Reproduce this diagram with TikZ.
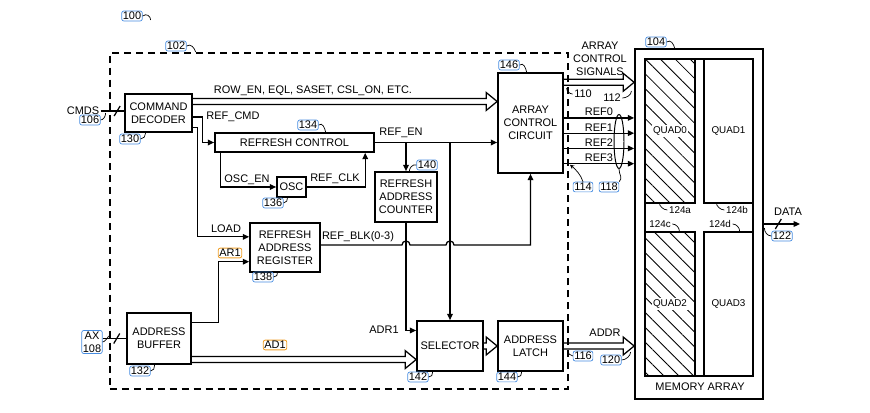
\documentclass[tikz,border=0pt]{standalone}
\usepackage{fontspec}
\setmainfont{Liberation Sans}
\usetikzlibrary{arrows.meta, calc, shapes.geometric, patterns.meta}

\definecolor{refblue}{RGB}{70,140,225}
\definecolor{reforange}{RGB}{240,160,40}

\newcommand{\lbl}{\fontsize{7.8}{9.4}\selectfont}
\newcommand{\qfont}{\fontsize{7}{8}\selectfont}

% hollow bus arrow: #1 start, #2 tip (same height)
\newcommand{\busarrow}[2]{%
  \draw[bus] ($(#1)+(0,-3)$) -- ($(#2)+(-11,-3)$) -- ($(#2)+(-11,-9)$) -- (#2)
    -- ($(#2)+(-11,9)$) -- ($(#2)+(-11,3)$) -- ($(#1)+(0,3)$);}

\begin{document}
\begin{tikzpicture}[
    x=0.025cm, y=-0.025cm,
    box/.style={rectangle, draw=black, line width=1.2pt, fill=white, align=center,
                inner sep=1pt, font=\lbl},
    chipbox/.style={rectangle, draw=black, line width=1pt, dash pattern=on 5pt off 3.5pt,
                    minimum width=11.45cm, minimum height=8.4cm},
    quad/.style={rectangle, draw=black, line width=1pt, minimum width=1.25cm, minimum height=3.6cm},
    hatch/.style={pattern={Lines[angle=-45, distance=7.5pt, line width=0.6pt]}},
    sig/.style={line width=0.9pt, -{Triangle[length=4.5pt,width=4pt]}},
    wire/.style={line width=0.9pt},
    bus/.style={line width=0.9pt, line join=miter},
    txt/.style={font=\lbl, inner sep=1pt, align=center},
    refnum/.style={draw=refblue, rounded corners=1.5pt, line width=0.5pt, inner sep=0.8pt, font=\lbl, align=center},
    signame/.style={draw=reforange, rounded corners=1.5pt, line width=0.6pt, inner sep=0.8pt, font=\lbl},
    hook/.style={line width=0.5pt}
]
\useasboundingbox (0,0) rectangle (870,413);

% ==================== CHIP (DASHED) ====================
\node[chipbox] (chip) at (339,221) {};
\node[refnum] (n100) at (132,16) {100};
\node[refnum] (n102) at (176,46) {102};

% ==================== BLOCKS ====================
\node[box, minimum width=1.675cm, minimum height=0.95cm] (dec) at (158.5,113) {COMMAND\\DECODER};
\node[box, minimum width=1.625cm, minimum height=2.5cm] (acc) at (530.5,123) {ARRAY\\CONTROL\\CIRCUIT};
\node[box, minimum width=3.975cm, minimum height=0.475cm] (rctl) at (294.5,142.5) {REFRESH CONTROL};
\node[box, minimum width=0.725cm, minimum height=0.5cm] (osc) at (291.5,187) {OSC};
\node[box, minimum width=1.55cm, minimum height=1.25cm] (rac) at (406,197) {REFRESH\\ADDRESS\\COUNTER};
\node[box, minimum width=1.75cm, minimum height=1.225cm] (rar) at (285,247.5) {REFRESH\\ADDRESS\\REGISTER};
\node[box, minimum width=1.6cm, minimum height=1.275cm] (abuf) at (159,338.5) {ADDRESS\\BUFFER};
\node[box, minimum width=1.65cm, minimum height=1.25cm] (sel) at (450,346) {SELECTOR};
\node[box, minimum width=1.625cm, minimum height=1.25cm] (latch) at (530.5,346) {ADDRESS\\LATCH};

\node[refnum] (n130) at (130,139) {130};
\node[refnum] (n146) at (509,65) {146};
\node[refnum] (n134) at (308,125) {134};
\node[refnum] (n136) at (273,203) {136};
\node[refnum] (n140) at (427,165) {140};
\node[refnum] (n138) at (263,277) {138};
\node[refnum] (n132) at (140,371) {132};
\node[refnum] (n142) at (418,377) {142};
\node[refnum] (n144) at (507,377) {144};

% ==================== MEMORY ARRAY ====================
\node[rectangle, draw=black, line width=1.2pt, minimum width=3.2cm, minimum height=8.75cm] (mem) at (699,224) {};
\node[rectangle, draw=black, line width=1pt, minimum width=2.7cm, minimum height=7.925cm] (cells) at (699,217.5) {};
\node[quad, hatch] (q0) at (670,131) {};
\node[quad, minimum width=1.225cm] (q1) at (728.5,131) {};
\node[quad, hatch] (q2) at (670,304) {};
\node[quad, minimum width=1.225cm] (q3) at (728.5,304) {};
\node[font=\qfont, fill=white, inner sep=1pt] (lq0) at (q0) {QUAD0};
\node[font=\qfont, inner sep=1pt] (lq1) at (q1) {QUAD1};
\node[font=\qfont, fill=white, inner sep=1pt] (lq2) at (q2) {QUAD2};
\node[font=\qfont, inner sep=1pt] (lq3) at (q3) {QUAD3};
\node[txt] (lmem) at (700,387) {MEMORY ARRAY};
\node[refnum] (n104) at (656,42) {104};
\node[font=\qfont, inner sep=1pt] (n124a) at (680,210) {124a};
\node[font=\qfont, inner sep=1pt] (n124b) at (737,210) {124b};
\node[font=\qfont, inner sep=1pt] (n124c) at (660,224) {124c};
\node[font=\qfont, inner sep=1pt] (n124d) at (720,224) {124d};

% ==================== INPUTS ====================
\node[txt] (cmds) at (83,111) {CMDS};
\node[refnum] (n106) at (90,120) {106};
\node[refnum] (nax) at (92,342) {AX\\108};

\draw[wire] (cmds.east) -- (dec.west |- cmds.east);
\draw[wire] ($(cmds.east)!.7!(dec.west |- cmds.east)$) ++(-3,5) -- ++(6,-10);
\draw[wire] (nax.east |- abuf.west) -- (abuf.west);
\draw[wire] ($(nax.east |- abuf.west)!.6!(abuf.west)$) ++(-3,5) -- ++(6,-10);

% ==================== CONNECTIONS ====================
% command decoder
\coordinate (rowbus) at ($(dec.north east)!.21!(dec.south east)$);
\busarrow{rowbus}{acc.west |- rowbus}
\node[txt] (lrow) at (313,91) {ROW\_EN, EQL, SASET, CSL\_ON, ETC.};

\draw[sig] ($(dec.north east)!.6!(dec.south east)$) -- ++(10,0) |- (rctl.west);
\node[txt] (lrefcmd) at (233,117) {REF\_CMD};
\draw[sig] ($(dec.north east)!.87!(dec.south east)$) -- ++(5,0) |- ($(rar.north west)!.29!(rar.south west)$);
\node[txt] (lload) at (226,229) {LOAD};

% refresh control and oscillator
\draw[sig] ($(rctl.south west)!.04!(rctl.south east)$) |- (osc.west);
\node[txt] (losc) at (247,180) {OSC\_EN};
\draw[sig] (osc.east) -| ($(rctl.south west)!.94!(rctl.south east)$);
\node[txt] (lclk) at (335,179) {REF\_CLK};

\draw[sig] (rctl.east) -- (acc.west |- rctl.east);
\draw[sig] (rac.north |- rctl.east) -- (rac.north);
\draw[sig] (sel.north |- rctl.east) -- (sel.north);
\node[txt] (len) at (401,133) {REF\_EN};

% refresh address register
\coordinate (blk) at ($(rar.north east)!.45!(rar.south east)$);
\draw[sig] (blk) -- ($(rac.south |- blk)+(-4,0)$) arc[start angle=180, end angle=0, radius=0.1cm]
  -- ($(sel.north |- blk)+(-4,0)$) arc[start angle=180, end angle=0, radius=0.1cm]
  -- (acc.south |- blk) -- (acc.south);
\node[txt] (lblk) at (358,237) {REF\_BLK(0-3)};

\draw[sig] (rac.south) |- ($(sel.north west)!.2!(sel.south west)$);
\node[txt] (ladr) at (384,330) {ADR1};

% address buffer
\draw[sig] ($(abuf.north east)!.2!(abuf.south east)$) -- ++(27,0) |- ($(rar.north west)!.78!(rar.south west)$);
\node[signame] (lar) at (230,253) {AR1};
\coordinate (adbus) at ($(abuf.north east)!.9!(abuf.south east)$);
\busarrow{adbus}{sel.west |- adbus}
\node[signame] (lad) at (275,345) {AD1};

\busarrow{sel.east}{latch.west}

% to memory array
\coordinate (ctlbus) at ($(acc.north east)!.1!(acc.south east)$);
\busarrow{ctlbus}{mem.west |- ctlbus}
\node[txt] (lctl) at (600,59) {ARRAY\\CONTROL\\SIGNALS};
\node[font=\lbl, inner sep=1pt] (n110) at (583,94) {110};
\node[font=\lbl, inner sep=1pt] (n112) at (612,98) {112};

\foreach \i/\f in {0/.45, 1/.6, 2/.75, 3/.9} {
  \coordinate (ref\i) at ($(acc.north east)!\f!(acc.south east)$);
  \draw[sig] (ref\i) -- (mem.west |- ref\i) node[midway, above, txt] (lref\i) {REF\i};
}
\node[ellipse, draw=black, line width=0.7pt, minimum width=0.25cm, minimum height=1.35cm, inner sep=0] (bundle) at (619,141.5) {};
\node[refnum] (n114) at (583,187) {114};
\node[refnum] (n118) at (609,187) {118};

\busarrow{latch.east}{mem.west |- latch.east}
\node[txt] (laddr) at (605,333) {ADDR};
\node[refnum] (n116) at (583,356) {116};
\node[refnum] (n120) at (611,360) {120};

% data out
\coordinate (dataout) at (800,224);
\draw[sig] (mem.east) -- (dataout);
\draw[wire] ($(mem.east)!.4!(dataout)$) ++(-3,5) -- ++(6,-10);
\node[txt] (ldata) at (788,212) {DATA};
\node[refnum] (n122) at (782,236) {122};

% ==================== LEADERS ====================
\draw[hook] (n100.east) .. controls +(4,-3) and +(0,-4) .. +(8,4);
\draw[hook] (n102.east) .. controls +(4,-3) and +(-1,-4) .. +(9,6);
\draw[hook] (n104.east) .. controls +(4,-3) and +(-1,-4) .. +(8,6);
\draw[hook] (n146.east) .. controls +(4,-3) and +(-1,-4) .. +(7,7);
\draw[hook] (n134.east) .. controls +(4,-3) and +(-1,-4) .. +(7,7);
\draw[hook] (n140.west) .. controls +(-4,-1) and +(0,-3) .. +(-7,6);
\draw[hook] (n130.east) .. controls +(3,0) and +(0,3) .. +(5,-6);
\draw[hook] (n136.east) .. controls +(3,0) and +(0,3) .. +(4,-6);
\draw[hook] (n138.east) .. controls +(3,0) and +(0,3) .. +(4,-5);
\draw[hook] (n132.east) .. controls +(3,0) and +(0,3) .. +(4,-6);
\draw[hook] (n142.east) .. controls +(3,0) and +(0,3) .. +(4,-5);
\draw[hook] (n144.east) .. controls +(3,0) and +(0,3) .. +(4,-5);
\draw[hook] (n106.east) .. controls +(3,0) and +(0,3) .. +(5,-7);
\draw[hook] (nax.east) .. controls +(2,0) and +(-1,2) .. +(6,-6);
\draw[hook] (n110.west) .. controls +(-3,0) and +(0,3) .. +(-6,-6);
\draw[hook] (n112.east) .. controls +(4,0) and +(0,4) .. +(9,-7);
\draw[hook, -{Stealth[length=3pt,width=3pt]}] (n114.north) .. controls +(-2,-7) and +(5,4) .. +(-13,-17);
\draw[hook] (n118.north east) .. controls +(4,-4) and +(0,6) .. (bundle.south);
\draw[hook] (n116.west) .. controls +(-3,0) and +(0,3) .. +(-5,-6);
\draw[hook] (n120.east) .. controls +(4,0) and +(0,4) .. +(9,-8);
\draw[hook] (n122.west) .. controls +(-4,0) and +(0,4) .. +(-7,-8);
\draw[hook] (n124a.west) .. controls +(-4,0) and +(0,3) .. +(-8,-7);
\draw[hook] (n124b.west) .. controls +(-4,0) and +(0,3) .. +(-8,-7);
\draw[hook] (n124c.east) .. controls +(4,0) and +(0,-3) .. +(7,7);
\draw[hook] (n124d.east) .. controls +(4,0) and +(0,-3) .. +(7,7);

\end{tikzpicture}
\end{document}
